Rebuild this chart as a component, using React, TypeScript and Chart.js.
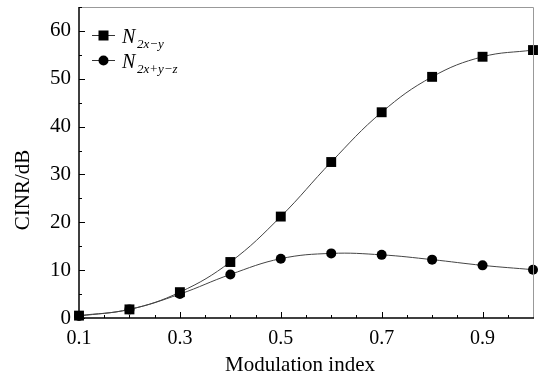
import React, { useEffect, useRef } from "react";
import { Chart, registerables } from "chart.js";

Chart.register(...registerables);

const modulationIndex = [0.1, 0.2, 0.3, 0.4, 0.5, 0.6, 0.7, 0.8, 0.9, 1.0];
const cinr2xy = [0.5, 1.8, 5.4, 11.7, 21.2, 32.6, 43.0, 50.4, 54.6, 56.0];
const cinr2xyz = [0.4, 1.8, 5.0, 9.1, 12.4, 13.5, 13.2, 12.2, 11.0, 10.1];
const xTickLabels = [0.1, 0.3, 0.5, 0.7, 0.9];
const yTickLabels = [0, 10, 20, 30, 40, 50, 60];
const xMinorTicks = [0.15, 0.2, 0.25, 0.35, 0.4, 0.45, 0.55, 0.6, 0.65, 0.75, 0.8, 0.85, 0.95];
const yMinorTicks = [5, 15, 25, 35, 45, 55, 65];

const FONT = "'Liberation Serif', 'Times New Roman', serif";

const framePlugin = {
  id: "frame",
  afterDraw(chart: any) {
    const { ctx, chartArea } = chart;
    const { left, right, top, bottom } = chartArea;
    const xs = chart.scales.x;
    const ys = chart.scales.y;
    ctx.save();
    ctx.strokeStyle = "#999";
    ctx.lineWidth = 1;
    ctx.beginPath();
    ctx.moveTo(left, top + 0.5);
    ctx.lineTo(right + 0.5, top + 0.5);
    ctx.lineTo(right + 0.5, bottom);
    ctx.stroke();
    ctx.strokeStyle = "#000";
    ctx.lineWidth = 1.5;
    ctx.beginPath();
    ctx.moveTo(left, top);
    ctx.lineTo(left, bottom);
    ctx.lineTo(right + 1, bottom);
    ctx.stroke();
    ctx.lineWidth = 1;
    ctx.beginPath();
    xTickLabels.forEach((v) => {
      const px = Math.round(xs.getPixelForValue(v)) + 0.5;
      ctx.moveTo(px, bottom);
      ctx.lineTo(px, bottom - 6);
    });
    xMinorTicks.forEach((v) => {
      const px = Math.round(xs.getPixelForValue(v)) + 0.5;
      ctx.moveTo(px, bottom);
      ctx.lineTo(px, bottom - 3);
    });
    yTickLabels.forEach((v) => {
      const py = Math.round(ys.getPixelForValue(v)) + 0.5;
      ctx.moveTo(left, py);
      ctx.lineTo(left + 6, py);
    });
    yMinorTicks.forEach((v) => {
      const py = Math.round(ys.getPixelForValue(v)) + 0.5;
      ctx.moveTo(left, py);
      ctx.lineTo(left + 3, py);
    });
    ctx.stroke();

    ctx.fillStyle = "#000";
    ctx.font = `21px ${FONT}`;
    ctx.textAlign = "center";
    ctx.textBaseline = "alphabetic";
    ctx.fillText("Modulation index", 300, 371);
    ctx.save();
    ctx.translate(29, 190);
    ctx.rotate(-Math.PI / 2);
    ctx.fillText("CINR/dB", 0, 0);
    ctx.restore();

    const drawEntry = (y: number, shape: string, sub: string) => {
      ctx.strokeStyle = "#333";
      ctx.lineWidth = 1;
      ctx.beginPath();
      ctx.moveTo(92, y + 0.5);
      ctx.lineTo(115, y + 0.5);
      ctx.stroke();
      ctx.fillStyle = "#000";
      if (shape === "rect") {
        ctx.fillRect(98.5, y - 4.5, 10, 10);
      } else {
        ctx.beginPath();
        ctx.arc(103.5, y + 0.5, 5, 0, Math.PI * 2);
        ctx.fill();
      }
      ctx.textAlign = "left";
      ctx.font = `italic 20px ${FONT}`;
      ctx.fillText("N", 122, y + 8);
      ctx.font = `italic 13px ${FONT}`;
      ctx.fillText(sub, 137, y + 13);
    };
    drawEntry(35, "rect", "2x\u2212y");
    drawEntry(60, "circle", "2x+y\u2212z");
    ctx.restore();
  },
};

export default function App() {
  const ref = useRef<HTMLCanvasElement>(null);
  useEffect(() => {
    if (!ref.current) return;
    const chart = new Chart(ref.current, {
      type: "line",
      data: {
        datasets: [
          {
            label: "N2x-y",
            data: modulationIndex.map((x, i) => ({ x, y: cinr2xy[i] })),
            borderColor: "#444",
            borderWidth: 1,
            backgroundColor: "#000",
            pointStyle: "rect",
            pointRadius: 7,
            pointBorderWidth: 0,
            tension: 0.4,
            clip: false,
          },
          {
            label: "N2x+y-z",
            data: modulationIndex.map((x, i) => ({ x, y: cinr2xyz[i] })),
            borderColor: "#444",
            borderWidth: 1,
            backgroundColor: "#000",
            pointStyle: "circle",
            pointRadius: 5,
            pointBorderWidth: 0,
            tension: 0.4,
            clip: false,
          },
        ],
      },
      options: {
        animation: false,
        responsive: false,
        maintainAspectRatio: false,
        layout: { padding: { top: 2, right: 11, left: 0, bottom: 0 } },
        plugins: { legend: { display: false }, tooltip: { enabled: false } },
        scales: {
          x: {
            type: "linear",
            min: 0.1,
            max: 1.0,
            grid: { display: false, drawTicks: false },
            border: { display: false },
            afterBuildTicks: (s: any) => {
              s.ticks = xTickLabels.map((v) => ({ value: v }));
            },
            afterFit: (s: any) => {
              s.height = 58;
              s.paddingLeft = 0;
              s.paddingRight = 0;
            },
            ticks: {
              color: "#000",
              padding: 9,
              maxRotation: 0,
              autoSkip: false,
              font: { family: FONT, size: 20 },
              callback: (v: any) => Number(v).toFixed(1),
            },
          },
          y: {
            type: "linear",
            min: 0,
            max: 65,
            grid: { display: false, drawTicks: false },
            border: { display: false },
            afterBuildTicks: (s: any) => {
              s.ticks = yTickLabels.map((v) => ({ value: v }));
            },
            afterFit: (s: any) => {
              s.width = 79;
              s.paddingTop = 0;
              s.paddingBottom = 0;
            },
            ticks: {
              color: "#000",
              padding: 8,
              font: { family: FONT, size: 21 },
            },
          },
        },
      },
      plugins: [framePlugin],
    });
    return () => chart.destroy();
  }, []);
  return (
    <div style={{ position: "fixed", left: 0, top: 0, width: 544, height: 376, background: "#fff" }}>
      <canvas ref={ref} width={544} height={376} style={{ width: 544, height: 376 }} />
    </div>
  );
}
